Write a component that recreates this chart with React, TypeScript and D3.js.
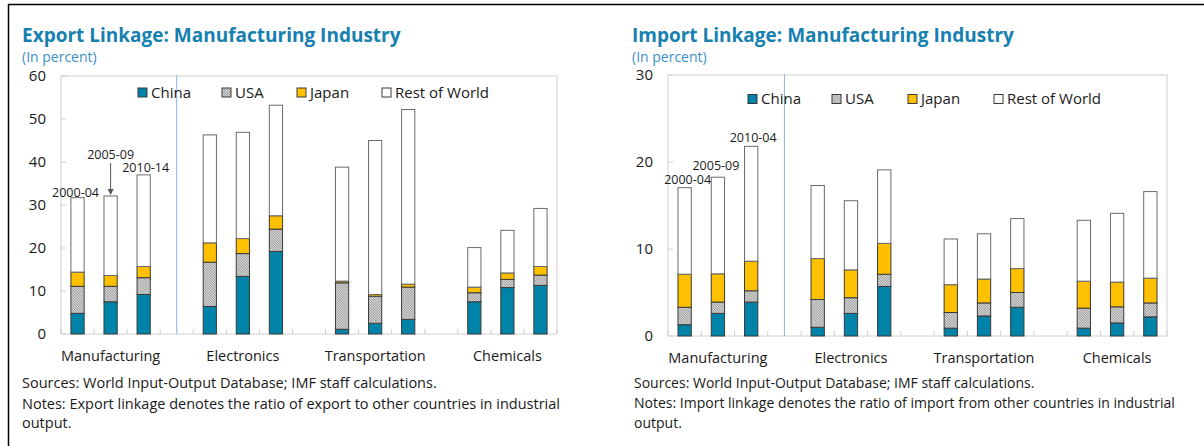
import React from "react";
import * as d3 from "d3";

// ---------- data ----------
const categories = ["Manufacturing", "Electronics", "Transportation", "Chemicals"];
const periodsExport = ["2000-04", "2005-09", "2010-14"];
const periodsImport = ["2000-04", "2005-09", "2010-04"];
const seriesNames = ["China", "USA", "Japan", "Rest of World"];

// Export linkage (order: M1,M2,M3,E1,E2,E3,T1,T2,T3,C1,C2,C3)
const exportChina = [4.8, 7.5, 9.2, 6.4, 13.4, 19.2, 1.1, 2.5, 3.4, 7.5, 10.8, 11.3];
const exportUSA = [6.3, 3.6, 3.9, 10.3, 5.3, 5.2, 10.8, 6.3, 7.5, 2.1, 1.9, 2.4];
const exportJapan = [3.3, 2.5, 2.6, 4.5, 3.5, 3.1, 0.4, 0.4, 0.7, 1.3, 1.5, 2.0];
const exportRest = [17.3, 18.5, 21.3, 25.1, 24.7, 25.7, 26.5, 35.8, 40.6, 9.2, 9.9, 13.5];

// Import linkage
const importChina = [1.3, 2.6, 3.9, 1.0, 2.6, 5.7, 0.9, 2.3, 3.3, 0.9, 1.5, 2.2];
const importUSA = [2.0, 1.3, 1.3, 3.2, 1.8, 1.4, 1.8, 1.5, 1.7, 2.3, 1.85, 1.6];
const importJapan = [3.8, 3.25, 3.4, 4.7, 3.2, 3.55, 3.2, 2.75, 2.75, 3.1, 2.85, 2.85];
const importRest = [9.95, 11.1, 13.2, 8.4, 7.95, 8.45, 5.25, 5.2, 5.75, 7.0, 7.9, 9.95];

const exportTicks = [0, 10, 20, 30, 40, 50, 60];
const importTicks = [0, 10, 20, 30];

// ---------- styles ----------
const FONT = "'Segoe UI', 'Open Sans', sans-serif";
const TITLE_COLOR = "#1680b0";
const SUB_COLOR = "#3a8fc8";
const FILLS = ["#0083a9", "url(#hatch)", "#ffc000", "#ffffff"];
const TEXT = "#1a1a1a";
const GRID = "#d0d0d0";

type PanelProps = {
  title: string;
  periods: string[];
  series: number[][];
  ticks: number[];
  x0: number;
  x1: number;
  y0: number;
  y1: number;
  titleX: number;
  noteX: number;
  noteSize: number;
  yLabelX: number;
  legendX: number;
  legendY: number;
  legendGaps: number[];
  catLabelY: number;
  annot: { dx: number; dy: number }[];
  arrowIdx: number | null;
  sources: string;
  notes: string[];
};

function Panel(p: PanelProps) {
  const slots: string[] = [];
  categories.forEach((c, ci) => {
    p.periods.forEach((per) => slots.push(c + "|" + per));
    if (ci < categories.length - 1) slots.push("gap" + ci);
  });
  const x = d3.scaleBand<string>().domain(slots).range([p.x0, p.x1]).paddingInner(0).paddingOuter(0);
  const maxV = p.ticks[p.ticks.length - 1];
  const y = d3.scaleLinear().domain([0, maxV]).range([p.y1, p.y0]);
  const barKeys = slots.filter((s) => !s.startsWith("gap"));
  const bw = x.bandwidth() * 0.4;

  const rows = barKeys.map((k, i) => {
    const o: any = { key: k };
    seriesNames.forEach((s, si) => (o[s] = p.series[si][i]));
    return o;
  });
  const stacked = d3.stack<any>().keys(seriesNames)(rows);
  const totals = rows.map((r) => seriesNames.reduce((a, s) => a + r[s], 0));

  const gapX = (x("gap0") as number) + x.bandwidth() / 2;
  const boundaries = d3.range(slots.length + 1).map((i) => p.x0 + i * x.bandwidth());
  const mid = p.periods[1];

  return (
    <g fontFamily={FONT}>
      <text x={p.titleX} y={42} fontSize={19} fontWeight="bold" fill={TITLE_COLOR}>
        {p.title}
      </text>
      <text x={p.titleX} y={62} fontSize={14} fill={SUB_COLOR}>
        (In percent)
      </text>
      {/* plot frame */}
      <rect x={p.x0} y={p.y0} width={p.x1 - p.x0} height={p.y1 - p.y0} fill="none" stroke={GRID} strokeWidth={1} />
      {/* y ticks & labels */}
      {p.ticks.map((t) => (
        <g key={t}>
          <line x1={p.x0} x2={p.x0 + 5} y1={y(t)} y2={y(t)} stroke={GRID} />
          <text x={p.yLabelX} y={y(t)} dy="0.35em" textAnchor="end" fontSize={15} fill={TEXT}>
            {t}
          </text>
        </g>
      ))}
      {/* x ticks */}
      {boundaries.map((bx, i) => (
        <line key={i} x1={bx} x2={bx} y1={p.y1} y2={p.y1 - 5} stroke={GRID} />
      ))}
      {/* separator line */}
      <line x1={gapX} x2={gapX} y1={p.y0 - 1} y2={p.y1} stroke="#8db3e2" strokeWidth={1} />
      {/* bars */}
      {stacked.map((layer, si) =>
        layer.map((d, i) => (
          <rect
            key={si + "-" + i}
            x={(x(barKeys[i]) as number) + (x.bandwidth() - bw) / 2}
            y={y(d[1])}
            width={bw}
            height={Math.max(0, y(d[0]) - y(d[1]))}
            fill={FILLS[si]}
            stroke={si === 3 ? "#6b6b6b" : "#3a3a3a"}
            strokeWidth={1}
          />
        ))
      )}
      {/* period annotations */}
      {p.periods.map((per, i) => {
        const cx = (x(barKeys[i]) as number) + x.bandwidth() / 2;
        const top = y(totals[i]);
        const a = p.annot[i];
        return (
          <text key={per} x={cx + a.dx} y={top + a.dy} textAnchor="middle" fontSize={12.5} fill={TEXT}>
            {per}
          </text>
        );
      })}
      {p.arrowIdx !== null && (() => {
        const i = p.arrowIdx as number;
        const cx = (x(barKeys[i]) as number) + x.bandwidth() / 2;
        const top = y(totals[i]);
        return (
          <g>
            <line x1={cx} x2={cx} y1={top - 33} y2={top - 3} stroke="#555" strokeWidth={1} />
            <path d={`M${cx - 3},${top - 7} L${cx},${top - 1} L${cx + 3},${top - 7} Z`} fill="#555" />
          </g>
        );
      })()}
      {/* legend */}
      {seriesNames.map((s, si) => {
        const lx = p.legendX + p.legendGaps[si];
        return (
          <g key={s}>
            <rect x={lx} y={p.legendY - 4.5} width={9} height={9} fill={FILLS[si]} stroke="#3a3a3a" strokeWidth={1} />
            <text x={lx + 13} y={p.legendY} dy="0.35em" fontSize={15} fill={TEXT}>
              {s}
            </text>
          </g>
        );
      })}
      {/* category labels, centred on each group's middle bar */}
      {categories.map((c) => (
        <text
          key={c}
          x={(x(c + "|" + mid) as number) + x.bandwidth() / 2}
          y={p.catLabelY}
          dy="0.35em"
          textAnchor="middle"
          fontSize={14.5}
          fill={TEXT}
        >
          {c}
        </text>
      ))}
      {/* sources & notes */}
      <text x={p.noteX} y={383} dy="0.35em" fontSize={p.noteSize} fill={TEXT}>
        {p.sources}
      </text>
      {p.notes.map((n, i) => (
        <text key={i} x={p.noteX} y={403.5 + i * 19.5} dy="0.35em" fontSize={p.noteSize} fill={TEXT}>
          {n}
        </text>
      ))}
    </g>
  );
}

export default function App() {
  return (
    <svg
      width={1204}
      height={446}
      style={{ position: "absolute", left: 0, top: 0, background: "#fff" }}
    >
      <defs>
        <pattern id="hatch" patternUnits="userSpaceOnUse" width={2.5} height={2.5}>
          <rect width={2.5} height={2.5} fill="#dcdcdc" />
          <path d="M-1,-1 L3.5,3.5 M-1,1.5 L1,3.5 M1.5,-1 L3.5,1" stroke="#7a7a7a" strokeWidth={0.8} />
        </pattern>
      </defs>
      <rect x={0} y={0} width={1204} height={446} fill="#fff" />
      <line x1={8} x2={1204} y1={4.5} y2={4.5} stroke="#000" strokeWidth={1.5} />
      <line x1={8.5} x2={8.5} y1={4} y2={446} stroke="#000" strokeWidth={1.5} />
      <Panel
        title="Export Linkage: Manufacturing Industry"
        periods={periodsExport}
        series={[exportChina, exportUSA, exportJapan, exportRest]}
        ticks={exportTicks}
        x0={61}
        x1={557}
        y0={76}
        y1={334}
        titleX={22}
        noteX={22}
        noteSize={14.5}
        yLabelX={46}
        legendX={138}
        legendY={92.5}
        legendGaps={[0, 84, 159, 244]}
        catLabelY={356}
        annot={[
          { dx: -2, dy: -1 },
          { dx: 0, dy: -37 },
          { dx: 2, dy: -3 },
        ]}
        arrowIdx={1}
        sources="Sources: World Input-Output Database; IMF staff calculations."
        notes={[
          "Notes: Export linkage denotes the ratio of export to other countries in industrial",
          "output.",
        ]}
      />
      <Panel
        title="Import Linkage: Manufacturing Industry"
        periods={periodsImport}
        series={[importChina, importUSA, importJapan, importRest]}
        ticks={importTicks}
        x0={668}
        x1={1167}
        y0={75}
        y1={336}
        titleX={632}
        noteX={634}
        noteSize={14}
        yLabelX={653}
        legendX={748}
        legendY={99}
        legendGaps={[0, 84, 160, 246]}
        catLabelY={358}
        annot={[
          { dx: 3, dy: -4 },
          { dx: -2, dy: -7 },
          { dx: 2, dy: -4 },
        ]}
        arrowIdx={null}
        sources="Sources: World Input-Output Database; IMF staff calculations."
        notes={[
          "Notes: Import linkage denotes the ratio of import from other countries in industrial",
          "output.",
        ]}
      />
    </svg>
  );
}
